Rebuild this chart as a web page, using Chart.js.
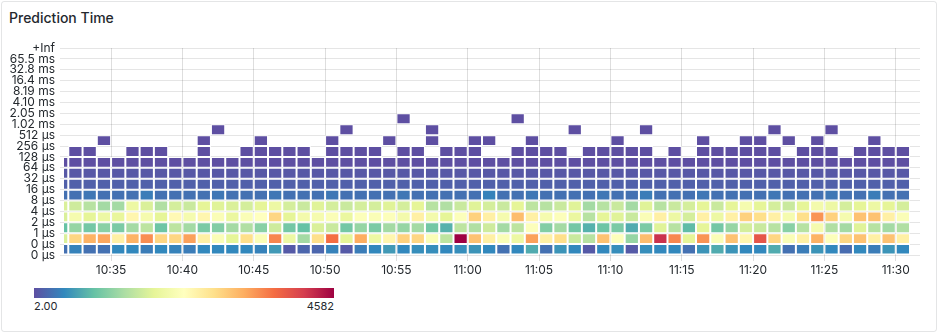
<!DOCTYPE html>
<html>
<head>
<meta charset="utf-8">
<script src="https://cdn.jsdelivr.net/npm/chart.js@4"></script>
<style>
  html, body { margin: 0; padding: 0; background: #fff; }
  body { width: 938px; height: 334px; position: relative; overflow: hidden; font-family: Inter, sans-serif; color: #24292e; }
  #panel { position: absolute; left: 1px; top: 1px; width: 934px; height: 329px; border: 1px solid rgba(36, 41, 46, 0.12); border-radius: 3px; }
  #title { position: absolute; left: 9px; top: 9px; font-size: 14px; font-weight: 500; white-space: nowrap; }
  #chart-wrap { position: absolute; left: 0; top: 0; width: 938px; height: 280px; }
  #scale-bar { position: absolute; left: 34px; top: 288px; width: 300px; height: 10px; }
  .scale-label { position: absolute; top: 299px; font-size: 11px; }
</style>
</head>
<body>
<div id="panel"></div>
<div id="title">Prediction Time</div>
<div id="chart-wrap"><canvas id="heatmap"></canvas></div>
<div id="scale-bar"></div>
<div class="scale-label" id="scale-min" style="left:34px"></div>
<div class="scale-label" id="scale-max" style="right:604px"></div>
<script>
// one bucket per minute, start times
const bucketStart = [
  '10:31','10:32','10:33','10:34','10:35','10:36','10:37','10:38','10:39','10:40',
  '10:41','10:42','10:43','10:44','10:45','10:46','10:47','10:48','10:49','10:50',
  '10:51','10:52','10:53','10:54','10:55','10:56','10:57','10:58','10:59','11:00',
  '11:01','11:02','11:03','11:04','11:05','11:06','11:07','11:08','11:09','11:10',
  '11:11','11:12','11:13','11:14','11:15','11:16','11:17','11:18','11:19','11:20',
  '11:21','11:22','11:23','11:24','11:25','11:26','11:27','11:28','11:29','11:30'
];

const xTickLabels = ['10:35','10:40','10:45','10:50','10:55','11:00','11:05','11:10','11:15','11:20','11:25','11:30'];
const xRange = ['10:31:42', '11:31:42'];

const yTickLabels = ['0 µs','0 µs','1 µs','2 µs','4 µs','8 µs','16 µs','32 µs','64 µs','128 µs','256 µs','512 µs',
  '1.02 ms','2.05 ms','4.10 ms','8.19 ms','16.4 ms','32.8 ms','65.5 ms','+Inf'];

const colorMin = 2;
const colorMax = 4582;

// counts per bucket row (bottom row first), null = empty cell
const le0us = [
  277,414,277,277,460,460,368,460,414,368,
  460,460,460,460,414,597,94,185,185,414,
  94,368,460,597,460,506,506,460,506,552,
  460,277,460,735,277,552,460,94,460,506,
  94,506,460,460,277,552,735,552,460,460,
  735,277,368,552,460,231,460,368,552,460
];
const le1us = [
  1742,2842,3162,3254,2521,3162,3437,2842,2842,3300,
  2521,2200,1834,2750,2200,3483,1971,1330,2750,3666,
  1834,3208,1971,2429,2887,2842,2200,1513,4582,3025,
  2521,2200,1971,3300,2521,2750,1605,1468,3025,2246,
  1239,3071,4216,3483,1834,3391,2200,3025,2429,3895,
  2842,2200,2521,3162,2246,2842,3025,2521,3025,2521
];
const le2us = [
  918,1239,1010,1147,1055,1330,1513,964,1513,1330,
  1055,1101,1330,1422,1147,1651,1010,918,1742,1605,
  1010,1239,1055,1330,1239,1330,1010,781,1513,1422,
  1651,1330,1513,2246,1101,1330,1010,781,964,1055,
  735,1055,1788,1468,872,1834,1010,1239,1697,1605,
  1468,1147,1468,2109,1422,1330,1788,1468,1330,1422
];
const le4us = [
  1742,2109,1834,1971,1880,2429,2109,1834,2384,2109,
  2429,2200,1926,2200,2292,2842,1834,2063,2109,2200,
  1926,2246,2200,2246,2063,2521,2063,1834,2246,2887,
  2521,2109,3071,2521,2109,2246,1926,1468,1834,1788,
  1605,2200,2521,1971,1697,2521,1971,2521,2887,2750,
  2521,2109,2750,3391,2887,2109,3025,3025,2521,2200
];
const le8us = [
  1742,1651,1468,1330,1330,1971,1742,1422,1697,1605,
  1834,1788,1742,1697,1834,1971,1697,1605,1788,1697,
  1605,1697,1697,1788,1697,1834,1468,1422,1605,1788,
  1697,1605,1834,1513,1468,1605,1788,1330,1468,1605,
  1330,1788,1468,1605,1697,1834,1605,1834,2109,1834,
  1697,1605,1834,2063,1971,1697,1834,1971,1834,1697
];
const le16us = [
  277,277,322,277,277,277,368,277,277,277,
  277,322,277,277,277,322,277,277,277,322,
  277,277,277,277,322,277,277,277,277,277,
  414,277,277,322,277,277,277,277,322,277,
  277,368,277,277,277,322,277,277,277,277,
  322,277,277,277,322,277,277,368,277,277
];
const le32us = [
  139,139,139,139,139,139,139,139,139,139,
  139,139,139,139,139,139,139,139,139,139,
  139,139,139,139,139,139,139,139,139,139,
  139,139,139,139,139,139,139,139,139,139,
  139,139,139,139,139,139,139,139,139,139,
  139,139,139,139,139,139,139,139,139,139
];
const le64us = [
  71,71,71,71,71,71,71,71,71,71,
  71,71,71,71,71,71,71,71,71,71,
  71,71,71,71,71,71,71,71,71,71,
  71,71,71,71,71,71,71,71,71,71,
  71,71,71,71,71,71,71,71,71,71,
  71,71,71,71,71,71,71,71,71,71
];
const le128us = [
  2,2,2,2,2,2,2,2,2,2,
  2,2,2,2,2,2,2,2,2,2,
  2,2,2,2,2,2,2,2,2,2,
  2,2,2,2,2,2,2,2,2,2,
  2,2,2,2,2,2,2,2,2,2,
  2,2,2,2,2,2,2,2,2,2
];
const le256us = [
  null,2,2,null,null,2,2,2,null,null,
  2,null,null,2,2,2,2,2,null,2,
  2,2,2,null,2,2,null,2,2,2,
  null,null,2,2,2,2,null,2,2,2,
  2,2,null,2,null,2,2,2,2,2,
  2,null,2,2,2,null,2,2,2,2
];
const le512us = [
  null,null,null,2,null,null,null,null,null,null,
  2,null,null,null,2,null,null,null,null,2,
  null,null,null,2,null,null,2,null,null,2,
  2,null,null,2,null,null,null,null,null,2,
  null,null,null,null,null,2,null,null,2,2,
  null,2,null,2,null,null,null,2,null,null
];
const le1ms = [
  null,null,null,null,null,null,null,null,null,null,
  null,2,null,null,null,null,null,null,null,null,
  2,null,null,null,null,null,2,null,null,null,
  null,null,null,null,null,null,2,null,null,null,
  null,2,null,null,null,null,null,null,null,null,
  2,null,null,null,2,null,null,null,null,null
];
const le2ms = [
  null,null,null,null,null,null,null,null,null,null,
  null,null,null,null,null,null,null,null,null,null,
  null,null,null,null,2,null,null,null,null,null,
  null,null,2,null,null,null,null,null,null,null,
  null,null,null,null,null,null,null,null,null,null,
  null,null,null,null,null,null,null,null,null,null
];

const rows = [le0us, le1us, le2us, le4us, le8us, le16us, le32us, le64us, le128us, le256us, le512us, le1ms, le2ms];

// spectral scheme, low -> high
const spectral = ['#5e4fa2','#3288bd','#66c2a5','#abdda4','#e6f598','#ffffbf','#fee08b','#fdae61','#f46d43','#d53e4f','#9e0142'];

function toMin(s) {
  const p = s.split(':').map(Number);
  return p[0] * 60 + p[1] + (p[2] || 0) / 60;
}

function hexRgb(h) {
  return [parseInt(h.slice(1, 3), 16), parseInt(h.slice(3, 5), 16), parseInt(h.slice(5, 7), 16)];
}

function heatColor(v) {
  let t = (v - colorMin) / (colorMax - colorMin);
  t = Math.max(0, Math.min(1, t));
  const p = t * (spectral.length - 1);
  const i = Math.min(Math.floor(p), spectral.length - 2);
  const f = p - i;
  const a = hexRgb(spectral[i]), b = hexRgb(spectral[i + 1]);
  const c = a.map((x, j) => Math.round(x + (b[j] - x) * f));
  return 'rgb(' + c.join(',') + ')';
}

const points = [];
rows.forEach((row, r) => {
  row.forEach((v, k) => {
    if (v === null) return;
    points.push({ x: toMin(bucketStart[k]) + 0.5, y: [r, r + 1], v: v });
  });
});

const textColor = '#24292e';
const tickFont = { family: 'Inter', size: 12 };

const heat_ctx = document.getElementById('heatmap').getContext('2d');
const heat_chart = new Chart(heat_ctx, {
  type: 'bar',
  data: {
    datasets: [{
      data: points,
      backgroundColor: ctx => heatColor(ctx.raw.v),
      borderColor: '#ffffff',
      borderWidth: 1,
      borderSkipped: false,
      inflateAmount: 0,
      barPercentage: 1,
      categoryPercentage: 1,
    }]
  },
  options: {
    responsive: true,
    maintainAspectRatio: false,
    animation: false,
    events: [],
    layout: { padding: { top: 48, right: 18, left: 0, bottom: 0 } },
    plugins: {
      legend: { display: false },
      tooltip: { enabled: false }
    },
    scales: {
      x: {
        type: 'linear',
        min: toMin(xRange[0]),
        max: toMin(xRange[1]),
        offset: false,
        grid: { color: 'rgba(0,0,0,0.13)', tickLength: 6, offset: false },
        border: { display: false },
        ticks: {
          color: textColor, font: tickFont, padding: 2, maxRotation: 0, autoSkip: false,
          callback: (v, i) => xTickLabels[i]
        },
        afterBuildTicks: s => { s.ticks = xTickLabels.map(l => ({ value: toMin(l) })); },
        afterFit: s => { s.height = 25; }
      },
      y: {
        type: 'linear',
        min: 0,
        max: yTickLabels.length - 1,
        grid: { color: 'rgba(0,0,0,0.1)', tickLength: 4 },
        border: { display: false },
        ticks: {
          color: textColor, font: tickFont, padding: 5, autoSkip: false,
          callback: (v, i) => yTickLabels[i]
        },
        afterBuildTicks: s => { s.ticks = yTickLabels.map((l, i) => ({ value: i })); },
        afterFit: s => { s.width = 64; }
      }
    }
  }
});

// colour scale legend
document.getElementById('scale-bar').style.background =
  'linear-gradient(to right, ' + spectral.map((c, i) => c + ' ' + (i * 10) + '%').join(', ') + ')';
document.getElementById('scale-min').textContent = colorMin.toFixed(2);
document.getElementById('scale-max').textContent = String(colorMax);
</script>
</body>
</html>
